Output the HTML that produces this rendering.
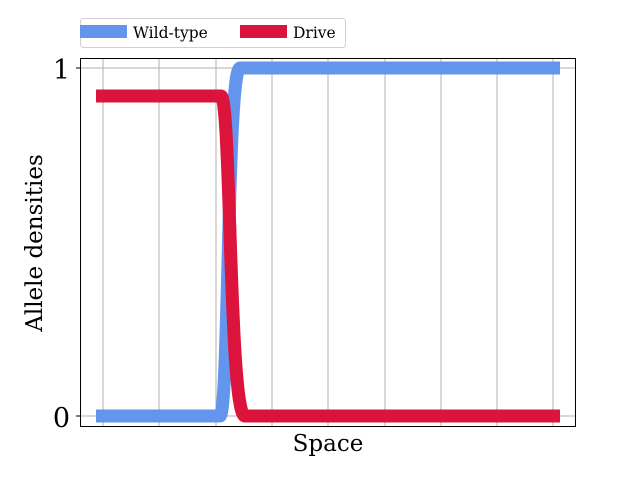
<!DOCTYPE html>
<html><head><style>body{margin:0;background:#fff}</style></head><body>
<svg width="640" height="480" xmlns="http://www.w3.org/2000/svg" style="display:block">
<rect width="640" height="480" fill="#fff"/>
<g stroke="#b0b0b0" stroke-width="1">
<line x1="103" y1="58" x2="103" y2="427"/><line x1="159" y1="58" x2="159" y2="427"/><line x1="216" y1="58" x2="216" y2="427"/><line x1="272" y1="58" x2="272" y2="427"/><line x1="328" y1="58" x2="328" y2="427"/><line x1="385" y1="58" x2="385" y2="427"/><line x1="441" y1="58" x2="441" y2="427"/><line x1="497" y1="58" x2="497" y2="427"/><line x1="553" y1="58" x2="553" y2="427"/>
<line x1="80" y1="68" x2="576" y2="68"/><line x1="80" y1="416" x2="576" y2="416"/>
</g>
<path d="M96 416 H220 C229 416 227 68 240 68 H560" fill="none" stroke="#6495ed" stroke-width="13"/>
<path d="M96 96 H221 C231 96 229 416 245 416 H560" fill="none" stroke="#dc143c" stroke-width="13"/>
<rect x="80.5" y="58.5" width="495" height="368" fill="none" stroke="#000" stroke-width="1"/>
<line x1="76" y1="68" x2="80" y2="68" stroke="#000"/><line x1="76" y1="416" x2="80" y2="416" stroke="#000"/>
<g font-family="DejaVu Serif, Liberation Serif, serif" fill="#000">
<text x="70" y="79" font-size="27" text-anchor="end">1</text>
<text x="70" y="427" font-size="27" text-anchor="end">0</text>
<text x="328" y="451" font-size="23" text-anchor="middle">Space</text>
<text transform="translate(42 243) rotate(-90)" font-size="23" text-anchor="middle">Allele densities</text>
</g>
<rect x="80.5" y="18.5" width="265" height="29" rx="3" fill="#fff" stroke="#d0d0d0"/>
<rect x="80" y="25" width="47" height="13" fill="#6495ed"/>
<rect x="240" y="25" width="47" height="13" fill="#dc143c"/>
<g font-family="DejaVu Serif, Liberation Serif, serif" font-size="15.5" fill="#000">
<text x="133" y="38">Wild-type</text>
<text x="293" y="38">Drive</text>
</g>
</svg>
</body></html>
